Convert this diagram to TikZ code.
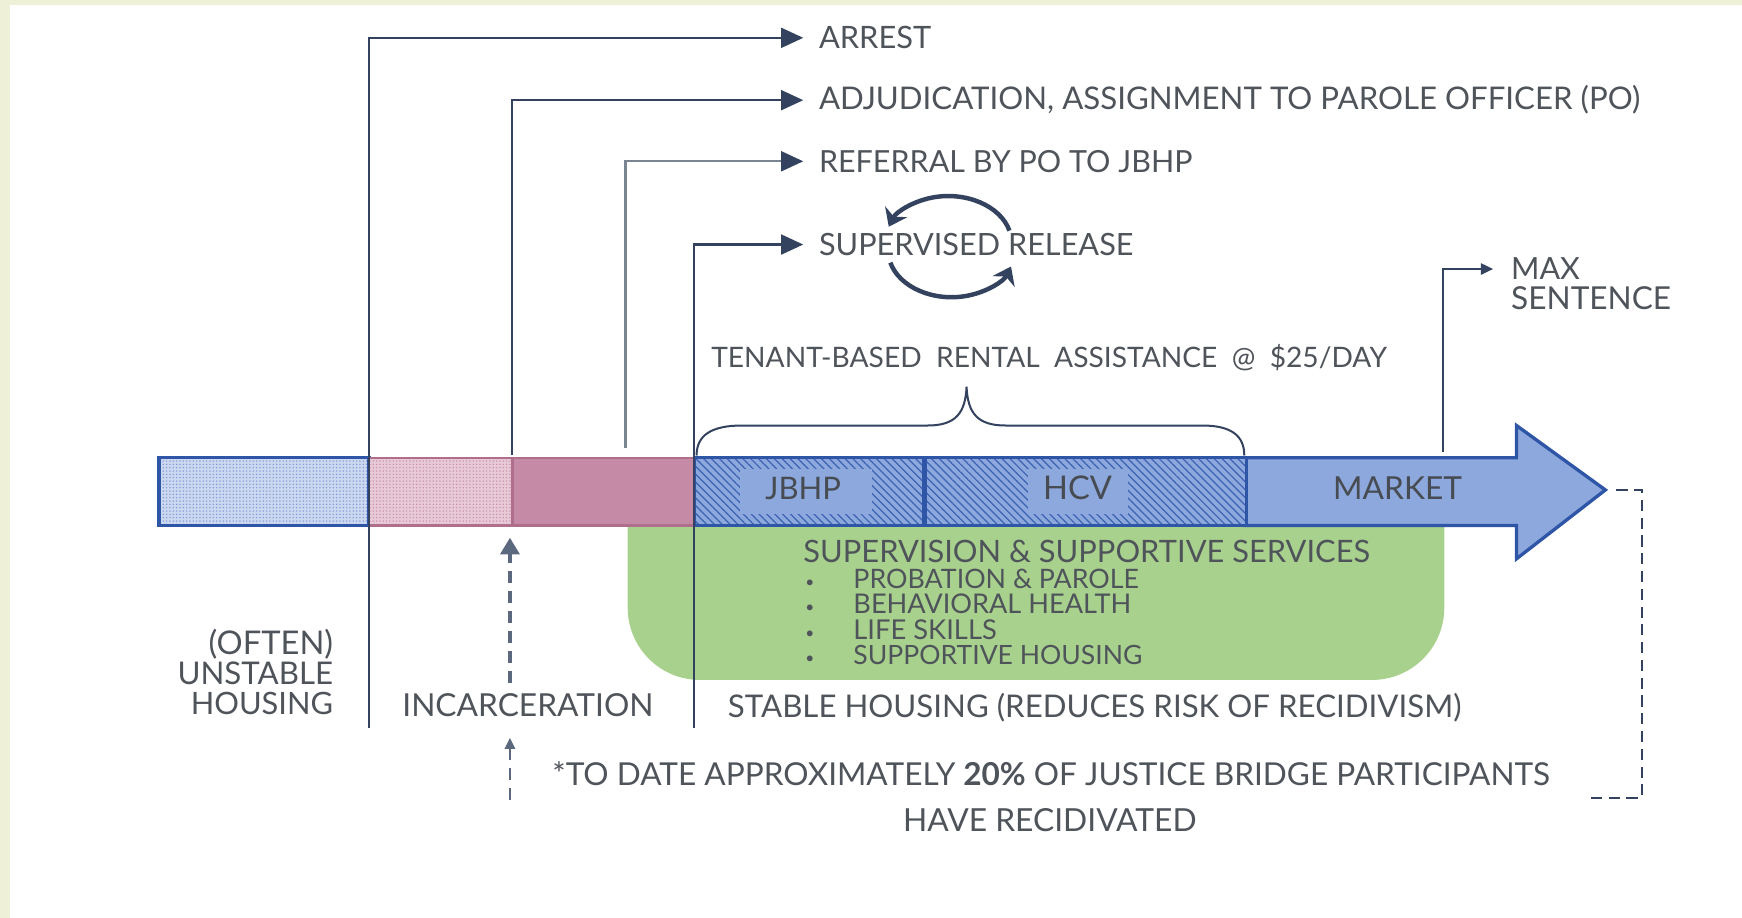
\documentclass[tikz,border=0pt]{standalone}
\usepackage{fontspec}
\setmainfont{Lato}
\usetikzlibrary{arrows.meta,patterns.meta}
\definecolor{cream}{HTML}{EEF0D8}
\definecolor{navy}{HTML}{33425E}
\definecolor{greyline}{HTML}{7A8592}
\definecolor{txt}{HTML}{4F545B}
\definecolor{bborder}{HTML}{2E55A6}
\definecolor{bfill}{HTML}{8DA8DC}
\definecolor{hatch}{HTML}{3C62B3}
\definecolor{ltblue}{HTML}{CCD7F0}
\definecolor{dotblue}{HTML}{7F9AD6}
\definecolor{pinksolid}{HTML}{C48AA6}
\definecolor{pinklight}{HTML}{E8CAD7}
\definecolor{pinkdot}{HTML}{C98FAB}
\definecolor{pinkborder}{HTML}{B06E8D}
\definecolor{greenbox}{HTML}{A8D18D}
\newcommand\tw[2]{\resizebox{#1pt}{!}{#2}}
\begin{document}
\begin{tikzpicture}[x=1pt,y=-1pt,
  lbl/.style={inner sep=0pt, text=txt, font=\fontsize{25}{30}\selectfont, anchor=base west},
  small/.style={inner sep=0pt, text=txt, font=\fontsize{21}{25}\selectfont, anchor=base west},
  barlbl/.style={inner sep=0pt, text=txt!90!black, font=\fontsize{28}{32}\selectfont, anchor=base},
  seg/.style={inner sep=0pt, minimum height=61pt},
  conn/.style={draw=navy, line width=2pt, -{Triangle[length=20pt,width=18pt,color=navy]}, shorten >=14pt},
  cyc/.style={draw=navy, line width=4pt, -{Stealth[length=15pt,width=22pt]}},
  dasharr/.style={draw=navy!80, line width=3.5pt, dash pattern=on 11pt off 7pt},
]
\useasboundingbox (0,0) rectangle (1568,826);
\fill[cream] (0,0) rectangle (1568,826);
\fill[white] (9,4.5) rectangle (1568,826);

% green services box
\fill[greenbox] (565,465) -- (565,547) arc[start angle=180, end angle=270, radius=65pt] -- (1235,612) arc[start angle=270, end angle=360, radius=65pt] -- (1300,465) -- cycle;

% timeline bar segments
\node[seg, minimum width=189pt, fill=ltblue] (uns) at (237.5,442.5) {};
\node[seg, minimum width=189pt, pattern={Dots[radius=0.7pt,distance=3pt]}, pattern color=dotblue] at (237.5,442.5) {};
\node[seg, minimum width=189pt, draw=bborder, line width=3pt] at (237.5,442.5) {};
\node[seg, minimum width=129pt, fill=pinklight] (incl) at (396.5,442.5) {};
\node[seg, minimum width=129pt, pattern={Dots[radius=0.7pt,distance=3pt]}, pattern color=pinkdot] at (396.5,442.5) {};
\node[seg, minimum width=164pt, fill=pinksolid] (incs) at (543,442.5) {};
\draw[pinkborder, line width=2pt] (332,412) rectangle (625,473);
\draw[pinkborder, line width=2.5pt] (461,412) -- (461,473);

% market arrow
\draw[bborder, fill=bfill, line width=3pt, line join=miter] (1120,412) -- (1365,412) -- (1365,383) -- (1445,441) coordinate (tip) -- (1365,503) -- (1365,473) -- (1120,473) -- cycle;

% JBHP and HCV hatched segments
\node[seg, minimum width=207pt, fill=bfill] (jbhp) at (728.5,442.5) {};
\node[seg, minimum width=290pt, fill=bfill] (hcv) at (977,442.5) {};
\fill[pattern={Lines[angle=-45,distance=5pt,line width=1.1pt]}, pattern color=hatch] (625,412) rectangle (1122,473);
\fill[bfill] (666,422) rectangle (785,463);
\fill[bfill] (925,422) rectangle (1015,463);
\draw[bborder, line width=3pt] (625,412) rectangle (1122,473);
\draw[bborder, line width=4pt] (832,412) -- (832,473);

\node[barlbl] (jbhpl) at (723,450) {\tw{68}{JBHP}};
\node[barlbl] (hcvl) at (970,450) {\tw{62}{HCV}};
\node[barlbl] (mktl) at (1258,450) {\tw{116}{MARKET}};

% top labels
\node[lbl] (arrest) at (737,44) {\tw{101}{ARREST}};
\node[lbl] (adj) at (737,99) {\tw{739}{ADJUDICATION, ASSIGNMENT TO PAROLE OFFICER (PO)}};
\node[lbl] (ref) at (737,155) {\tw{336}{REFERRAL BY PO TO JBHP}};
\node[lbl] (sup) at (737,230) {\tw{283}{SUPERVISED RELEASE}};
\node[lbl] (max) at (1360,252) {\tw{62}{MAX}};
\node[lbl] (sent) at (1360,279) {\tw{144}{SENTENCE}};

% origin points on the timeline
\coordinate (p1) at (332,655);
\coordinate (p2) at (461,410);
\coordinate (p3) at (563,403);
\coordinate (p4) at (625,655);
\coordinate (p5) at (1299,407);

\draw[conn] (p1) |- (arrest.west);
\draw[conn] (p2) |- (adj.west);
\draw[conn, draw=greyline] (p3) |- (ref.west);
\draw[conn] (p4) |- (sup.west);
\draw[draw=navy, line width=2pt, -{Triangle[length=11pt,width=10pt]}, shorten >=16pt] (p5) |- (max.west);

% cycle arrows around supervised release
\coordinate (cc) at (855,222);
\draw[cyc] ([shift={(53.6pt,14.4pt)}]cc) arc[start angle=15, end angle=160, x radius=57pt, y radius=42pt];
\draw[cyc] ([shift={(-53.6pt,-14.4pt)}]cc) arc[start angle=195, end angle=340, x radius=57pt, y radius=42pt];

% brace
\draw[navy, line width=1.8pt] (627,410) .. controls (627,392) and (640,383) .. (668,383) -- (835,383) .. controls (860,383) and (869,372) .. (870,348) .. controls (871,372) and (880,383) .. (905,383) -- (1082,383) .. controls (1108,383) and (1120,392) .. (1120,410);
\node[small] (tba) at (640,330.5) {\tw{608}{TENANT-BASED\ \ RENTAL\ \ ASSISTANCE\ \ @\ \ \$25/DAY}};

% services text
\node[lbl] (svc) at (723,506) {\tw{510}{SUPERVISION \& SUPPORTIVE SERVICES}};
\foreach \yy/\tt/\ww [count=\i] in {529.5/PROBATION \& PAROLE/257, 552.5/BEHAVIORAL HEALTH/250, 575.5/LIFE SKILLS/129, 598.5/SUPPORTIVE HOUSING/260}{
  \node[small, anchor=base, font=\fontsize{14}{16}\selectfont] (b\i) at (729,\yy-1) {\textbullet};
  \node[small] (it\i) at (768,\yy) {\tw{\ww}{\tt}};
}

% bottom labels
\node[lbl] (stable) at (655,646) {\tw{660}{STABLE HOUSING (REDUCES RISK OF RECIDIVISM)}};
\node[lbl, anchor=base east] (often) at (300,589) {\tw{112}{(OFTEN)}};
\node[lbl, anchor=base east] (unst) at (300,616) {\tw{140}{UNSTABLE}};
\node[lbl, anchor=base east] (hous) at (300,643) {\tw{128}{HOUSING}};
\node[lbl] (incar) at (362,645) {\tw{226}{INCARCERATION}};
\node[lbl] (todate) at (497,707) {\tw{898}{*TO DATE APPROXIMATELY \textbf{20\%} OF JUSTICE BRIDGE PARTICIPANTS}};
\node[lbl, anchor=base] (have) at (945,748) {\tw{264}{HAVE RECIDIVATED}};

% dashed arrows to incarceration
\coordinate (d1s) at (459,615);
\coordinate (d1e) at (459,484);
\coordinate (d2s) at (459,720);
\coordinate (d2e) at (459,664);
\draw[dasharr, -{Triangle[length=15pt,width=17pt]}] (d1s) -- (d1e);
\draw[dasharr, line width=2.5pt, -{Triangle[length=10pt,width=9pt]}] (d2s) -- (d2e);

% recidivism dashed bracket
\coordinate (r1) at (1478,441);
\coordinate (r2) at (1478,718);
\coordinate (r3) at (1430,718);
\draw[navy, line width=2pt, dash pattern=on 10pt off 6pt] ([xshift=10pt]tip) -- (r1) -- (r2) -- (r3);
\end{tikzpicture}
\end{document}
